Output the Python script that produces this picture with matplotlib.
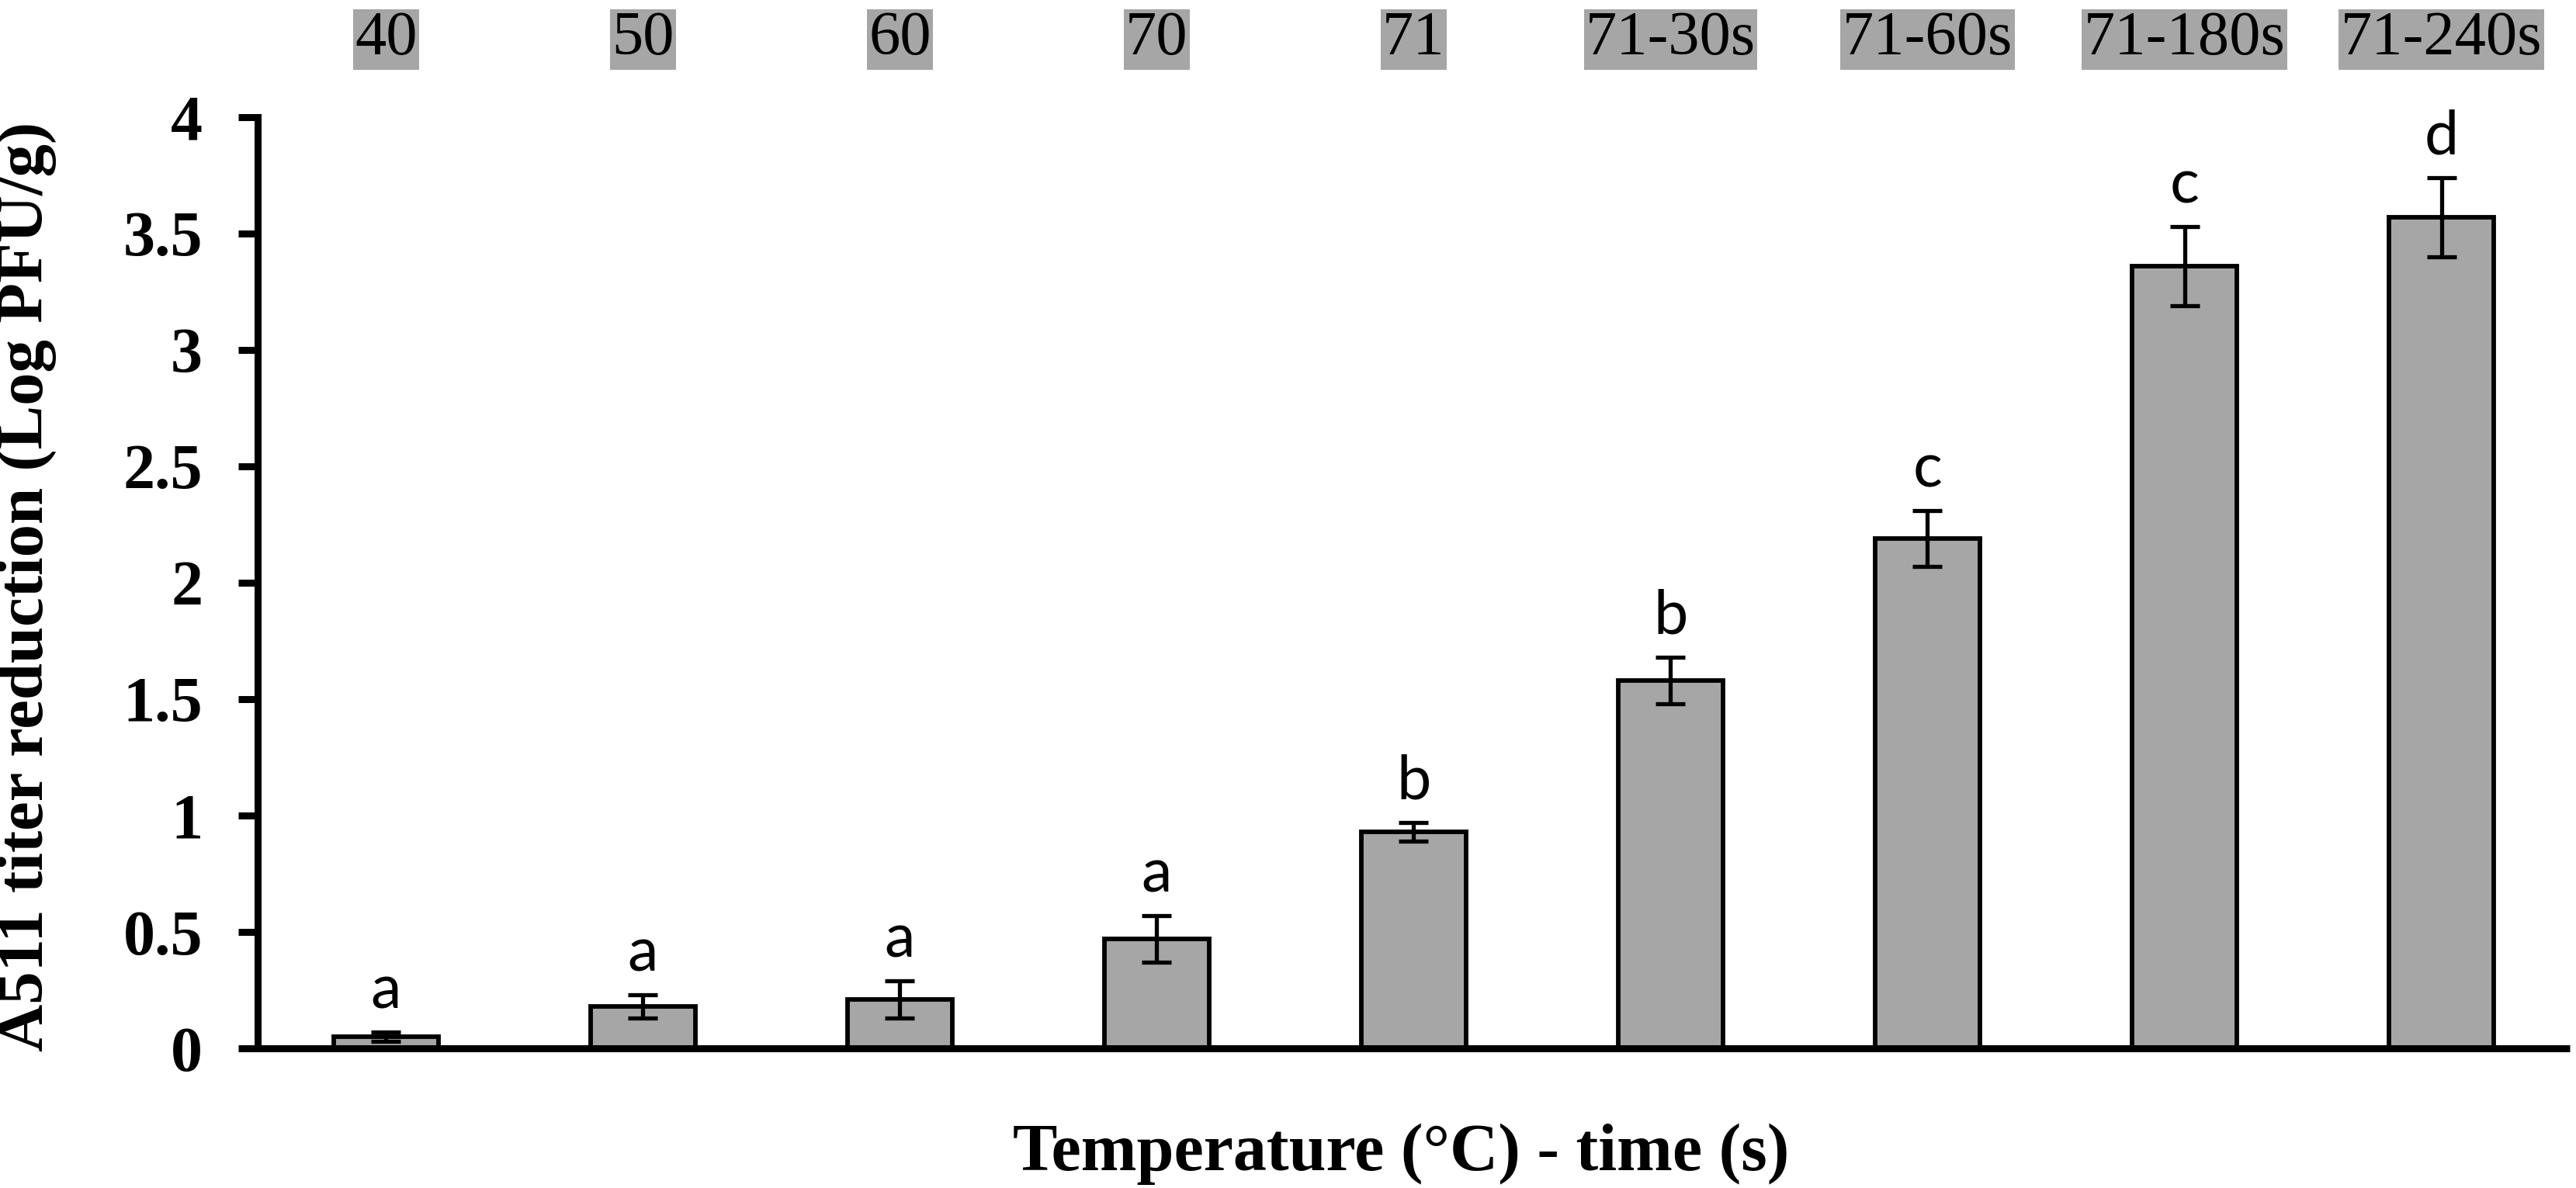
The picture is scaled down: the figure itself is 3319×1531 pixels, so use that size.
import matplotlib
matplotlib.use("Agg")
import matplotlib.pyplot as plt
from matplotlib.transforms import blended_transform_factory, offset_copy

categories = ["40", "50", "60", "70", "71", "71-30s", "71-60s", "71-180s", "71-240s"]
means = [0.05, 0.18, 0.21, 0.47, 0.93, 1.58, 2.19, 3.36, 3.57]
errors = [0.02, 0.05, 0.08, 0.10, 0.04, 0.10, 0.12, 0.17, 0.17]
letters = ["a", "a", "a", "a", "b", "b", "c", "c", "d"]
yticks = [0, 0.5, 1, 1.5, 2, 2.5, 3, 3.5, 4]
ytick_labels = ["0", "0.5", "1", "1.5", "2", "2.5", "3", "3.5", "4"]

DPI = 100
fig = plt.figure(figsize=(33.19, 15.31), dpi=DPI)
ax = fig.add_axes([0.1000, 0.1176, 0.8976, 0.7838])

GRAY = "#A6A6A6"
serif = "Liberation Serif"

x = list(range(len(categories)))
ax.bar(x, means, width=0.41, color=GRAY, edgecolor="black", linewidth=4.2, zorder=2)
ax.errorbar(x, means, yerr=errors, fmt="none", ecolor="black", elinewidth=3.8,
            capsize=13.5, capthick=3.8, zorder=3)

ax.set_xlim(-0.5, len(categories) - 0.5)
ax.set_ylim(0, 4)
ax.set_xticks([])
ax.set_yticks(yticks)
ax.set_yticklabels(ytick_labels, fontfamily=serif, fontweight="bold", fontsize=59)
ax.tick_params(axis="y", direction="out", length=18, width=6.5, pad=33)

for s in ["top", "right"]:
    ax.spines[s].set_visible(False)
for s in ["left", "bottom"]:
    ax.spines[s].set_linewidth(6.5)
ax.spines["left"].set_zorder(4)
ax.spines["bottom"].set_zorder(4)
ax.spines["bottom"].set_capstyle("butt")

# significance letters above error bars
lt = offset_copy(ax.transData, fig=fig, x=0, y=12, units="points")
for xi, m, e, l in zip(x, means, errors, letters):
    ax.text(xi, m + e, l, transform=lt, ha="center", va="bottom",
            fontfamily="Lato", fontsize=57, zorder=5)

# category labels at the top with gray background
tr = blended_transform_factory(ax.transData, fig.transFigure)
for xi, c in zip(x, categories):
    ax.text(xi, 0.9667, c, transform=tr, ha="center", va="center",
            fontfamily=serif, fontsize=58,
            bbox=dict(boxstyle="square,pad=0.03", facecolor=GRAY, edgecolor="none"),
            clip_on=False)

fig.text(0.0105, 0.506, "A511 titer reduction (Log PFU/g)", rotation=90,
         ha="center", va="center", fontfamily=serif, fontweight="bold", fontsize=61)
fig.text(0.544, 0.015, "Temperature (\u00b0C) - time (s)", ha="center", va="baseline",
         fontfamily=serif, fontweight="bold", fontsize=62)

fig.savefig("out.png", dpi=DPI)
